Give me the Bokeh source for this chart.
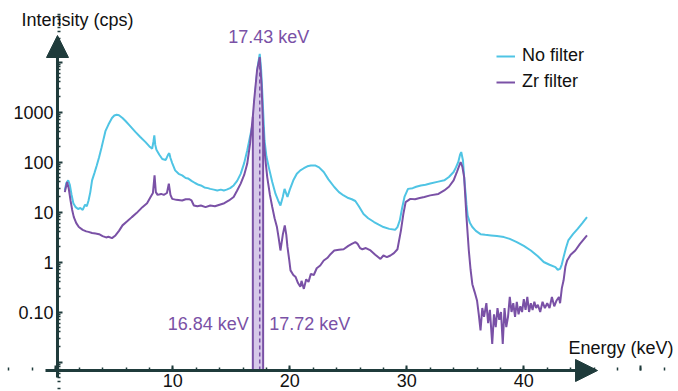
import numpy as np
from bokeh.plotting import figure
from bokeh.models import (Arrow, NormalHead, Label, Legend, LegendItem, FixedTicker,
                          SingleIntervalTicker, CustomJSTickFormatter)
from bokeh.embed import file_html
from bokeh.resources import INLINE

# ---------------- data ----------------
nofilter_keV = [0.77, 0.9, 1.06, 1.2, 1.35, 1.5, 1.7, 1.9, 2.1, 2.3, 2.5, 2.65, 2.8, 2.95, 3.1, 3.3, 3.5, 3.7,
                3.9, 4.1, 4.25, 4.5, 4.8, 5.0, 5.2, 5.4, 5.7, 5.96, 6.3, 6.8, 7.2, 7.67, 8.0, 8.24, 8.35, 8.42,
                8.5, 8.6, 8.85, 9.1, 9.4, 9.6, 9.7, 9.8, 9.95, 10.2, 10.5, 10.8, 11.1, 11.3, 11.6, 11.9, 12.2,
                12.4, 12.7, 13.0, 13.2, 13.5, 13.8, 14.1, 14.36, 14.6, 14.9, 15.2, 15.5, 15.8, 16.1, 16.36,
                16.6, 16.84, 17.07, 17.25, 17.43, 17.55, 17.64, 17.84, 18.0, 18.2, 18.5, 18.78, 19.0, 19.2,
                19.4, 19.55, 19.65, 19.8, 20.0, 20.3, 20.6, 20.9, 21.2, 21.5, 21.8, 22.2, 22.5, 22.9, 23.3,
                23.8, 24.2, 24.6, 25.0, 25.3, 25.6, 25.9, 26.3, 26.7, 27.2, 27.6, 28.0, 28.5, 29.0, 29.2,
                29.4, 29.6, 29.8, 30.1, 30.5, 30.8, 31.2, 31.6, 32.0, 32.6, 33.2, 33.6, 34.0, 34.2, 34.4,
                34.55, 34.65, 34.8, 34.9, 35.0, 35.1, 35.2, 35.4, 35.6, 35.9, 36.3, 36.7, 37.2, 37.7, 38.3,
                38.8, 39.4, 40.0, 40.6, 41.2, 41.7, 42.2, 42.7, 42.9, 43.1, 43.25, 43.4, 43.6, 43.8, 44.2,
                44.6, 45.0, 45.4]
nofilter_cps = [27, 38, 43, 35, 22, 15, 12.5, 11.5, 12, 11, 14, 13, 17, 25, 43, 60, 85, 125,
                190, 300, 420, 560, 760, 850, 880, 860, 760, 660, 540, 400, 320, 250, 205, 185, 260, 340,
                220, 175, 140, 115, 110, 140, 150, 120, 95, 68, 58, 54, 48, 47, 42, 38, 35,
                34, 31, 30, 29, 28, 27, 28, 27, 28, 30, 34, 42, 58, 95, 170,
                320, 600, 2700, 8000, 14500, 7000, 2700, 270, 130, 79, 40, 23, 17, 13.5,
                20, 29, 25, 20, 28, 43, 58, 68, 75, 82, 85, 85, 78, 63, 45,
                31.6, 25, 21.4, 19, 18, 16.6, 13, 9.1, 7.5, 6.3, 5.6, 5.0, 4.6, 4.4, 5,
                6.8, 12, 20, 29, 30, 32, 34, 35, 37, 40, 43, 50, 63, 78, 100,
                140, 158, 107, 50, 27, 14, 8.5, 6, 5.0, 4.2, 3.6, 3.5, 3.4, 3.3, 3.15,
                2.9, 2.5, 2.1, 1.7, 1.3, 1.0, 0.88, 0.79, 0.7, 0.73, 0.9, 1.26, 1.9, 2.7, 3.6,
                4.6, 6, 7.9]

zr_keV = [0.77, 0.97, 1.1, 1.26, 1.4, 1.54, 1.75, 1.97, 2.3, 2.6, 2.8, 3.1, 3.4, 3.7, 4.0, 4.3, 4.5, 4.8,
          5.1, 5.4, 5.7, 6.1, 6.5, 6.9, 7.4, 7.8, 8.1, 8.3, 8.44, 8.55, 8.7, 9.0, 9.23, 9.5, 9.66, 9.8,
          9.95, 10.3, 10.8, 11.1, 11.4, 11.6, 11.8, 12.1, 12.4, 12.8, 13.2, 13.6, 14.0, 14.4, 14.8, 15.2,
          15.5, 15.8, 16.1, 16.36, 16.6, 16.84, 16.95, 17.2, 17.43, 17.58, 17.72, 17.78, 17.9, 18.07,
          18.3, 18.5, 18.7, 18.9, 19.05, 19.2, 19.4, 19.57, 19.7, 19.8, 19.95, 20.06, 20.3, 20.5, 20.7,
          20.9, 21.0, 21.2, 21.4, 21.6, 21.8, 22.05, 22.3, 22.6, 22.9, 23.2, 23.5, 23.8, 24.2, 24.6,
          25.0, 25.3, 25.6, 25.8, 26.0, 26.2, 26.5, 26.9, 27.3, 27.75, 28.0, 28.3, 28.6, 28.9, 29.2,
          29.5, 29.7, 29.9, 30.3, 30.7, 31.1, 31.5, 32.0, 32.7, 33.2, 33.6, 34.0, 34.3, 34.6, 34.75,
          34.9, 35.1, 35.3, 35.45, 35.6, 35.8, 36.0, 36.15, 36.3, 36.45, 36.6, 36.8, 36.95, 37.1, 37.3,
          37.45, 37.6, 37.75, 37.9, 38.05, 38.2, 38.35, 38.5, 38.65, 38.8, 38.95, 39.1, 39.25, 39.4,
          39.55, 39.7, 39.85, 40.0, 40.15, 40.3, 40.45, 40.6, 40.75, 40.9, 41.05, 41.2, 41.4, 41.6,
          41.8, 42.0, 42.2, 42.4, 42.6, 42.8, 43.0, 43.1, 43.25, 43.4, 43.55, 43.7, 44.0, 44.4, 44.8,
          45.1, 45.4]
zr_cps = [25, 40, 30, 17, 11, 7.9, 6, 5.0, 4.4, 4.1, 4.0, 3.8, 3.7, 3.6, 3.3, 3.1, 3.2, 3.0,
          3.4, 4.2, 5.4, 6.5, 7.9, 9.5, 12.5, 15, 20, 24, 54, 25, 22, 23, 22, 24, 37, 22,
          18.3, 17.5, 17, 18, 18, 17, 13.5, 13, 13.5, 12.5, 13.5, 13, 14, 15, 17, 20,
          27, 37, 55, 92, 230, 800, 1700, 6800, 12500, 3650, 500, 270, 120, 50,
          22, 12.6, 7.5, 5, 3, 1.7, 3.5, 5.4, 3.5, 2, 1.1, 0.68, 0.55, 0.5, 0.38,
          0.32, 0.42, 0.29, 0.45, 0.4, 0.58, 0.55, 0.75, 0.85, 1.07, 1.2, 1.45, 1.7, 1.75, 1.8,
          2.1, 2.3, 2.5, 2.3, 1.9, 1.8, 1.9, 1.7, 1.4, 1.15, 1.35, 1.25, 1.35, 1.5, 1.8,
          4.3, 9, 15.8, 18.3, 18, 19, 20, 21.5, 23, 27, 32, 43, 65, 100, 80,
          50, 7.9, 1.7, 0.7, 0.36, 0.25, 0.17, 0.09, 0.043, 0.12, 0.08, 0.15, 0.06, 0.11, 0.023,
          0.09, 0.05, 0.12, 0.07, 0.1, 0.023, 0.12, 0.05, 0.08, 0.2, 0.1, 0.15, 0.08, 0.16,
          0.09, 0.13, 0.1, 0.18, 0.11, 0.2, 0.1, 0.15, 0.11, 0.16, 0.12, 0.14, 0.1, 0.16,
          0.12, 0.15, 0.12, 0.2, 0.13, 0.17, 0.2, 0.15, 0.3, 0.43, 0.8, 1.07, 1.4, 1.7, 2.3,
          2.8, 3.4]

band_lo_keV = 16.84
band_hi_keV = 17.72
peak_keV = 17.43

series_names = ["No filter", "Zr filter"]
x_ticks_interval = 10
y_major_ticks = [0.01, 0.1, 1, 10, 100, 1000, 10000]

# ---------------- style ----------------
CYAN = "#4fc4e4"
PURPLE = "#7a51a6"
BAND = "#d6c8e9"
AXIS = "#1f3b3b"
FONT = "Liberation Sans"

# plot frame spans the whole canvas; axes are placed at fixed locations
x_lo, x_hi = -4.726, 53.22
y_lo, y_hi = 10 ** -2.59, 10 ** 5.23
x_axis_at = 0.145          # keV where the intensity axis stands
y_axis_at = 10 ** -2.17    # cps where the energy axis lies
x_arrow_tip = 46.3
y_arrow_tip = 10 ** 4.53

p = figure(width=678, height=391, y_axis_type="log",
           x_range=(x_lo, x_hi), y_range=(y_lo, y_hi),
           output_backend="svg", toolbar_location=None,
           min_border=0)
p.outline_line_color = None
p.grid.visible = False
p.background_fill_color = "white"

p.xaxis.fixed_location = y_axis_at
p.yaxis.fixed_location = x_axis_at
p.xaxis.ticker = SingleIntervalTicker(interval=x_ticks_interval, num_minor_ticks=5)
minor = [m * 10.0 ** k for k in range(-3, 5) for m in range(2, 10)]
p.yaxis.ticker = FixedTicker(ticks=y_major_ticks, minor_ticks=minor)
p.xaxis.formatter = CustomJSTickFormatter(code="return tick > 0 && tick < 45 ? tick.toFixed(0) : '';")
p.yaxis.formatter = CustomJSTickFormatter(code="""
if (tick < 0.05 || tick > 5000) return "";
if (tick < 0.5) return tick.toFixed(2);
return tick.toFixed(0);
""")
for ax in (p.xaxis[0], p.yaxis[0]):
    ax.axis_line_color = None
    ax.major_tick_line_color = AXIS
    ax.minor_tick_line_color = AXIS
    ax.major_tick_line_width = 2
    ax.minor_tick_line_width = 1.5
    ax.major_tick_in = 5
    ax.major_tick_out = 0
    ax.minor_tick_in = 3
    ax.minor_tick_out = 0
    ax.major_label_text_font = FONT
    ax.major_label_text_font_size = "18px"
    ax.major_label_text_color = "#111111"
p.xaxis.major_label_standoff = 3
p.yaxis.major_label_standoff = 4

# data curves
r_nf = p.line(nofilter_keV, nofilter_cps, line_color=CYAN, line_width=2)

zx = np.array(zr_keV)
zy = np.array(zr_cps)
mask = (zx >= band_lo_keV) & (zx <= band_hi_keV)
p.varea(x=zx[mask], y1=np.full(mask.sum(), y_axis_at), y2=zy[mask], fill_color=BAND)

r_zr = p.line(zr_keV, zr_cps, line_color=PURPLE, line_width=2)

edge_y = [zy[zx == band_lo_keV][0], zy[zx == band_hi_keV][0]]
p.segment(x0=[band_lo_keV, band_hi_keV], y0=[y_axis_at, y_axis_at],
          x1=[band_lo_keV, band_hi_keV], y1=edge_y, line_color=PURPLE, line_width=2)
p.segment(x0=[peak_keV], y0=[y_axis_at], x1=[peak_keV], y1=[zy[zx == peak_keV][0]],
          line_color=PURPLE, line_width=1.5, line_dash="4 3")

# axis arrows
p.add_layout(Arrow(end=NormalHead(size=22, fill_color=AXIS, line_color=AXIS),
                   x_start=-0.88, y_start=y_axis_at, x_end=x_arrow_tip, y_end=y_axis_at,
                   line_color=AXIS, line_width=3))
p.add_layout(Arrow(end=NormalHead(size=22, fill_color=AXIS, line_color=AXIS),
                   x_start=x_axis_at, y_start=10 ** -2.31, x_end=x_axis_at, y_end=y_arrow_tip,
                   line_color=AXIS, line_width=3))

# texts
p.add_layout(Label(x=21, y=362, x_units="screen", y_units="screen", text="Intensity (cps)",
                   text_font=FONT, text_font_size="18px", text_color="#111111"))
p.add_layout(Label(x=568, y=34, x_units="screen", y_units="screen", text="Energy (keV)",
                   text_font=FONT, text_font_size="18px", text_color="#111111"))
p.add_layout(Label(x=peak_keV, y=344.5, x_offset=9, y_units="screen", text=f"{peak_keV:.2f} keV",
                   text_align="center", text_font=FONT, text_font_size="18px", text_color=PURPLE))
p.add_layout(Label(x=band_lo_keV, y=58, x_offset=-4, y_units="screen", text=f"{band_lo_keV:.2f} keV",
                   text_align="right", text_font=FONT, text_font_size="18px", text_color=PURPLE))
p.add_layout(Label(x=band_hi_keV, y=58, x_offset=6, y_units="screen", text=f"{band_hi_keV:.2f} keV",
                   text_align="left", text_font=FONT, text_font_size="18px", text_color=PURPLE))

legend = Legend(items=[LegendItem(label=series_names[0], renderers=[r_nf]),
                       LegendItem(label=series_names[1], renderers=[r_zr])],
                location=(496, 299), border_line_color=None, background_fill_alpha=0,
                padding=0, margin=0, spacing=5, glyph_width=19, glyph_height=20,
                label_height=20, label_standoff=7, label_text_font=FONT,
                label_text_font_size="18px", label_text_color="#111111")
p.add_layout(legend)

open("out.html", "w").write(file_html(p, INLINE))
